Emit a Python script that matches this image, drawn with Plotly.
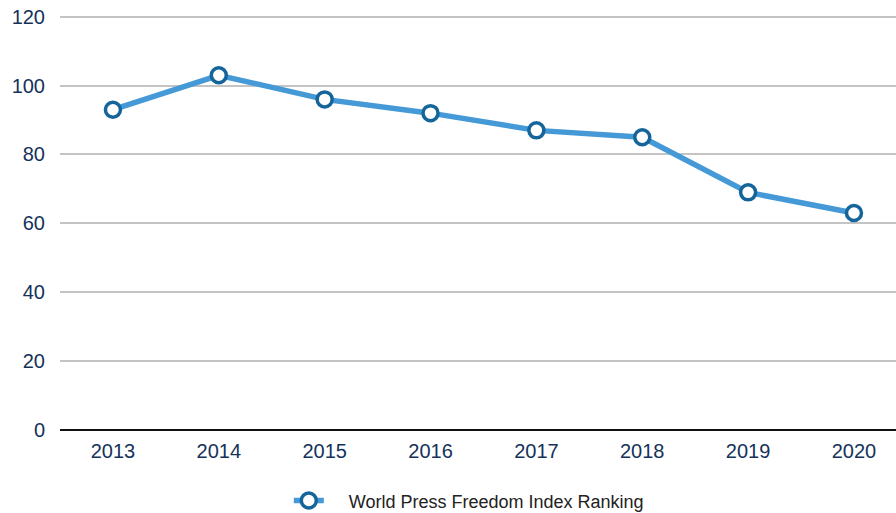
import plotly.graph_objects as go

years = ['2013', '2014', '2015', '2016', '2017', '2018', '2019', '2020']
ranking = [93, 103, 96, 92, 87, 85, 69, 63]
y_ticks = [0, 20, 40, 60, 80, 100, 120]

fig = go.Figure()

fig.add_trace(go.Scatter(
    x=years,
    y=ranking,
    name='\u00a0\u00a0\u00a0\u00a0World Press Freedom Index Ranking',
    mode='lines+markers',
    line=dict(color='#4499d6', width=5.5),
    marker=dict(size=15, color='white', line=dict(color='#15659a', width=3.5)),
    cliponaxis=False
))

# figure is a bit taller than the window so the legend never pushes the margins
fig.update_layout(
    width=896,
    height=530,
    margin=dict(l=60, r=0, t=15, b=100),
    plot_bgcolor='white',
    paper_bgcolor='white',
    font=dict(family='Liberation Sans, Arial, sans-serif', size=20, color='#14325a'),
    showlegend=True,
    legend=dict(
        orientation='h',
        x=0.489, xanchor='center',
        y=-0.126, yanchor='top',
        font=dict(size=18, color='#222222')
    ),
    xaxis=dict(
        type='category',
        range=[-0.5, 7.397],
        showgrid=False,
        showline=False,
        ticks='',
        automargin=False,
        ticklabelstandoff=7,
        tickfont=dict(size=20, color='#14325a'),
        zeroline=False
    ),
    yaxis=dict(
        range=[0, 120.5],  # a hair above 120 so the top gridline is drawn
        tickvals=y_ticks,
        showgrid=True,
        gridcolor='#c4c4c4',
        gridwidth=2,
        zeroline=True,
        zerolinecolor='#111111',
        zerolinewidth=2,
        ticks='',
        automargin=False,
        ticklabelstandoff=14,
        tickfont=dict(size=20, color='#14325a')
    )
)

fig.write_html("out.html", config={'displayModeBar': False},
               post_script='document.body.style.margin = "0";')
